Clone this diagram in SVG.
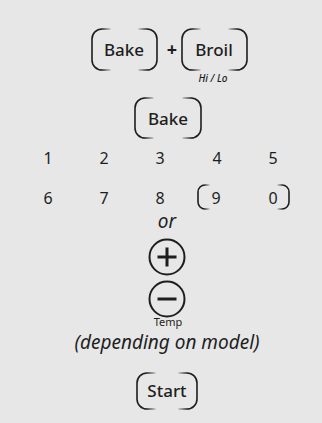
<svg xmlns="http://www.w3.org/2000/svg" width="322" height="423" viewBox="0 0 322 423">
<defs>
<linearGradient id="fl" x1="0" y1="0" x2="1" y2="0"><stop offset="0.55" stop-color="#1e1e1e"/><stop offset="1" stop-color="#1e1e1e" stop-opacity="0.25"/></linearGradient>
<linearGradient id="fr" x1="1" y1="0" x2="0" y2="0"><stop offset="0.55" stop-color="#1e1e1e"/><stop offset="1" stop-color="#1e1e1e" stop-opacity="0.25"/></linearGradient>
</defs>
<style>
.bg{fill:#e7e7e7}
.br{fill:none;stroke-width:1.6;stroke-linecap:round}
.l{stroke:url(#fl)}
.r{stroke:url(#fr)}
.t{font-family:"Noto Sans",sans-serif;fill:#1e1e1e;text-anchor:middle}
.k{font-size:17px;font-weight:500}
.d{font-size:16px}
.i{font-style:italic}
.c{fill:none;stroke:#1e1e1e;stroke-width:2}
.s{stroke:#1e1e1e;stroke-width:3;stroke-linecap:butt}
</style>
<rect class="bg" width="322" height="423"/>
<g id="bake1">
<path class="br l" d="M110,29 H102 A10,10 0 0 0 92,39 V60 A10,10 0 0 0 102,70 H110"/>
<path class="br r" d="M139,29 H147 A10,10 0 0 1 157,39 V60 A10,10 0 0 1 147,70 H139"/>
<text class="t k" x="124" y="56">Bake</text>
</g>
<g id="plus-sign"><text class="t" x="172" y="56" style="font-size:18px;font-weight:700">+</text></g>
<g id="broil">
<path class="br l" d="M200,29 H192 A10,10 0 0 0 182,39 V60 A10,10 0 0 0 192,70 H200"/>
<path class="br r" d="M229,29 H237 A10,10 0 0 1 247,39 V60 A10,10 0 0 1 237,70 H229"/>
<text class="t k" x="214" y="56">Broil</text>
<text class="t i" x="213" y="82" style="font-size:10px;font-weight:500">Hi / Lo</text>
</g>
<g id="bake2">
<path class="br l" d="M153,98 H145 A10,10 0 0 0 135,108 V128 A10,10 0 0 0 145,138 H153"/>
<path class="br r" d="M183,98 H191 A10,10 0 0 1 201,108 V128 A10,10 0 0 1 191,138 H183"/>
<text class="t k" x="168" y="125">Bake</text>
</g>
<g id="digits">
<text class="t d" x="48" y="164">1</text>
<text class="t d" x="104" y="164">2</text>
<text class="t d" x="160" y="164">3</text>
<text class="t d" x="217" y="164">4</text>
<text class="t d" x="273" y="164">5</text>
<text class="t d" x="48" y="204">6</text>
<text class="t d" x="104" y="204">7</text>
<text class="t d" x="160" y="204">8</text>
<text class="t d" x="216" y="204">9</text>
<text class="t d" x="273" y="204">0</text>
</g>
<g id="nine-zero-key">
<path class="br l" d="M209,185 H205 A7,7 0 0 0 198,192 V202 A7,7 0 0 0 205,209 H209"/>
<path class="br r" d="M278,185 H282 A7,7 0 0 1 289,192 V202 A7,7 0 0 1 282,209 H278"/>
</g>
<g id="or"><text class="t i" x="167" y="228" style="font-size:19px">or</text></g>
<g id="temp-up">
<circle class="c" cx="167" cy="257" r="17.5"/>
<path class="s" d="M157.5,257 H176.5 M167,247.5 V266.5"/>
</g>
<g id="temp-down">
<circle class="c" cx="167" cy="299" r="17.5"/>
<path class="s" d="M157.5,299 H176.5"/>
<text class="t" x="168" y="326" style="font-size:11px">Temp</text>
</g>
<g id="note"><text class="t i" x="167" y="349" style="font-size:19px">(depending on model)</text></g>
<g id="start">
<path class="br l" d="M155,373 H147 A10,10 0 0 0 137,383 V399 A10,10 0 0 0 147,409 H155"/>
<path class="br r" d="M179,373 H187 A10,10 0 0 1 197,383 V399 A10,10 0 0 1 187,409 H179"/>
<text class="t k" x="167" y="397">Start</text>
</g>
<g id="connectors"/>
</svg>
